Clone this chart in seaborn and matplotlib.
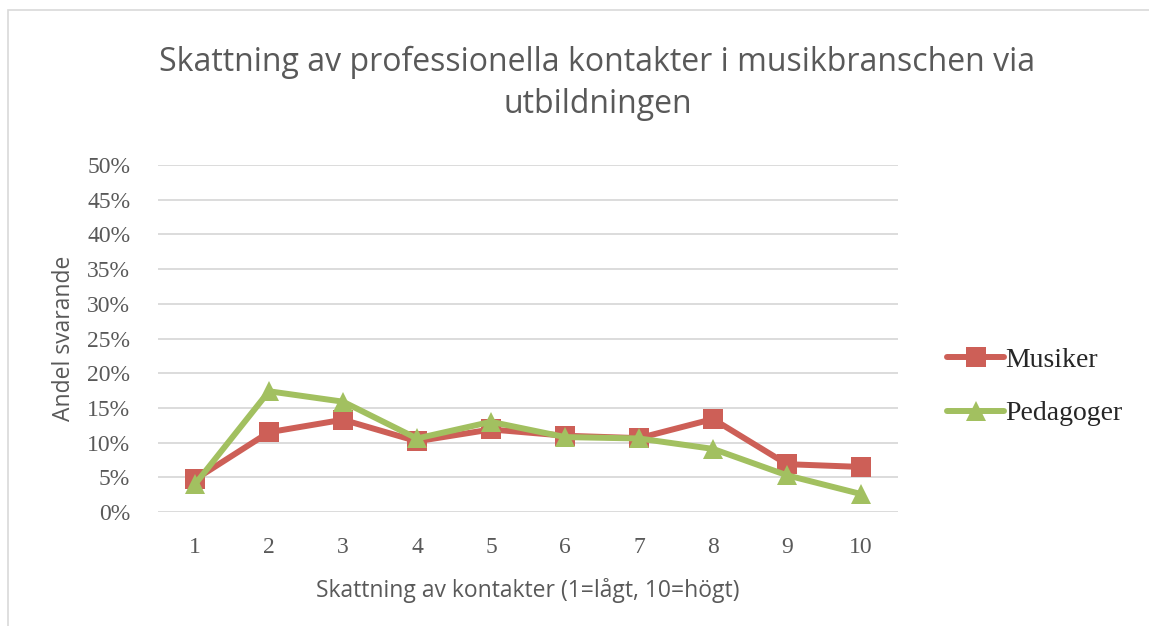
import matplotlib
matplotlib.use("Agg")
import matplotlib.pyplot as plt
from matplotlib.ticker import PercentFormatter
from matplotlib.patches import Rectangle
import pandas as pd
import seaborn as sns

# data
ratings = [1, 2, 3, 4, 5, 6, 7, 8, 9, 10]
musiker = [0.047, 0.115, 0.133, 0.102, 0.119, 0.110, 0.1065, 0.134, 0.069, 0.065]
pedagoger = [0.040, 0.174, 0.159, 0.106, 0.130, 0.108, 0.106, 0.091, 0.053, 0.026]
series_names = ["Musiker", "Pedagoger"]
y_ticks = [0.0, 0.05, 0.10, 0.15, 0.20, 0.25, 0.30, 0.35, 0.40, 0.45, 0.50]

df = pd.DataFrame({
    "rating": ratings * 2,
    "share": musiker + pedagoger,
    "group": [series_names[0]] * len(ratings) + [series_names[1]] * len(ratings),
})

sns.set_theme(style="white")
plt.rcParams["font.family"] = ["Open Sans", "DejaVu Sans"]

fig = plt.figure(figsize=(11.49, 6.26), dpi=100)
ax = fig.add_axes([0.1375, 0.182, 0.644, 0.5545])

palette = {"Musiker": "#CD5F57", "Pedagoger": "#A2C060"}
sns.lineplot(data=df, x="rating", y="share", hue="group", style="group",
             palette=palette, markers={"Musiker": "s", "Pedagoger": "^"},
             dashes=False, linewidth=4.3, markersize=14, markeredgewidth=0,
             ax=ax)

ax.set_xlim(0.5, 10.5)
ax.set_ylim(0, 0.5)
ax.set_yticks(y_ticks)
ax.yaxis.set_major_formatter(PercentFormatter(1.0, decimals=0))
ax.set_xticks(ratings)
ax.grid(axis="y", color="#D9D9D9", linewidth=1.3)
ax.set_axisbelow(True)
for s in ax.spines.values():
    s.set_visible(False)
ax.tick_params(axis="both", length=0, labelsize=17, colors="#595959")
ax.tick_params(axis="y", pad=20)
ax.tick_params(axis="x", pad=18)
for lab in ax.get_xticklabels() + ax.get_yticklabels():
    lab.set_fontfamily("Liberation Serif")

ax.set_xlabel("Skattning av kontakter (1=lågt, 10=högt)", fontsize=16.5,
              color="#595959", labelpad=14)
ax.set_ylabel("Andel svarande", fontsize=16.5, color="#595959", labelpad=8)

fig.text(0.52, 0.90, "Skattning av professionella kontakter i musikbranschen via",
         ha="center", va="center", fontsize=23, color="#595959")
fig.text(0.52, 0.833, "utbildningen", ha="center", va="center",
         fontsize=23, color="#595959")

leg = ax.legend(loc="center left", bbox_to_anchor=(1.033, 0.36), frameon=False,
                prop={"family": "Liberation Serif", "size": 20},
                handlelength=2.05, handletextpad=0.05, labelspacing=1.0)
leg.set_title(None)

# outer chart border
fig.patches.append(Rectangle((0.007, -0.01), 1.1, 0.994, transform=fig.transFigure,
                             fill=False, edgecolor="#D9D9D9", linewidth=1.2))

fig.savefig("out.png", dpi=100)
